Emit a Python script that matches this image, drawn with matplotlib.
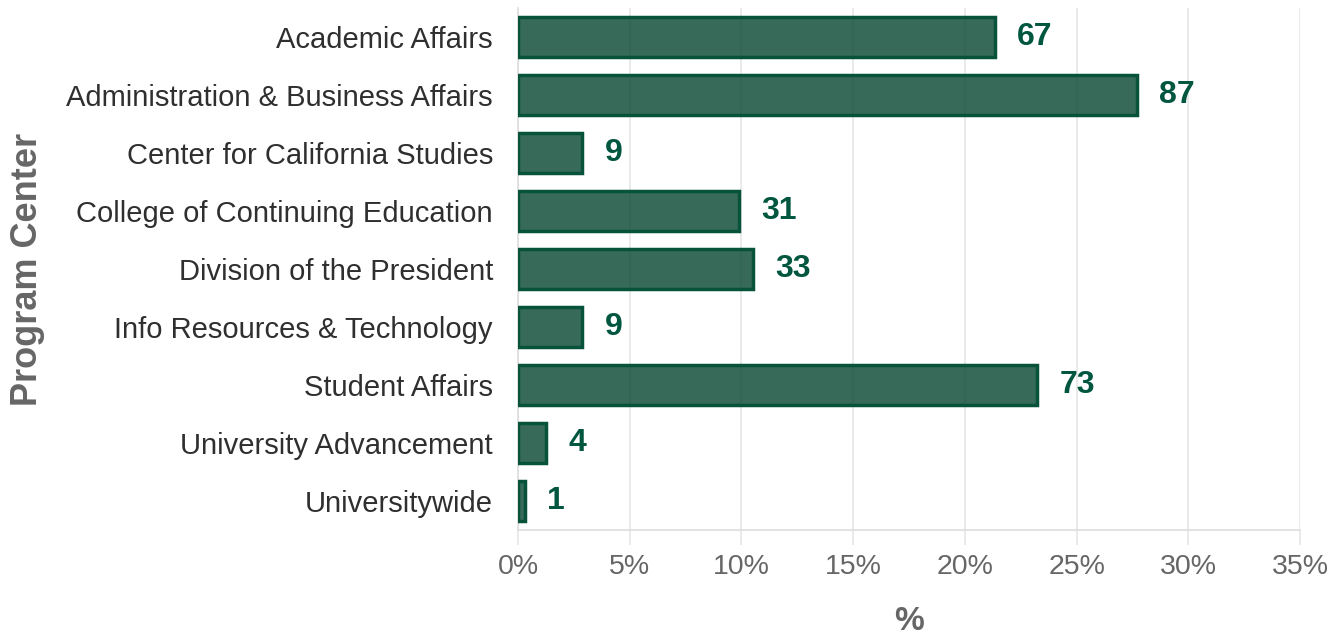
import matplotlib.pyplot as plt
from matplotlib.ticker import PercentFormatter

plt.rcParams['font.family'] = ['Liberation Sans', 'DejaVu Sans']

# Program centers and their counts
centers = [
    'Academic Affairs',
    'Administration & Business Affairs',
    'Center for California Studies',
    'College of Continuing Education',
    'Division of the President',
    'Info Resources & Technology',
    'Student Affairs',
    'University Advancement',
    'Universitywide',
]
counts = [67, 87, 9, 31, 33, 9, 73, 4, 1]
x_ticks = [0, 5, 10, 15, 20, 25, 30, 35]

total = sum(counts)
percents = [c / total * 100 for c in counts]

green = '#00563F'
bar_fill = (0.02, 0.27, 0.18, 0.8)

fig = plt.figure(figsize=(13.41, 6.37), dpi=100)
ax = fig.add_axes([518 / 1341, 1 - 530 / 637, 782 / 1341, 522 / 637])

ypos = list(range(len(centers)))
ax.barh(ypos, percents, height=0.7, facecolor=bar_fill,
        edgecolor='#07523b', linewidth=2.5, zorder=3)

for y, p, c in zip(ypos, percents, counts):
    ax.text(p + 1.0, y, str(c), va='center', ha='left', fontsize=23,
            fontweight='bold', color=green)

ax.set_ylim(len(centers) - 0.5, -0.5)
ax.set_xlim(0, 35)
ax.set_yticks(ypos)
ax.set_yticklabels(centers, fontsize=21, color='#2f2f2f')
ax.set_xticks(x_ticks)
ax.xaxis.set_major_formatter(PercentFormatter(decimals=0))
ax.tick_params(axis='x', labelsize=20.5, labelcolor='#666666', length=11,
               color='#e6e6e6', width=1.2, pad=6)
ax.tick_params(axis='y', length=0, pad=18)

ax.grid(axis='x', color='#e6e6e6', linewidth=1.2, zorder=0)
for side in ['top', 'right']:
    ax.spines[side].set_visible(False)
for side in ['left', 'bottom']:
    ax.spines[side].set_color('#dddddd')
    ax.spines[side].set_linewidth(1.2)

ax.set_xlabel('%', fontsize=24, fontweight='bold', color='#666666')
ax.xaxis.set_label_coords(0.5, -(622 - 530) / 522)
ax.xaxis.label.set_va('center')
ax.set_ylabel('Program Center', fontsize=26, fontweight='bold', color='#666666')
ax.yaxis.set_label_coords(-(518 - 28) / 782, 0.5)
ax.yaxis.label.set_va('center')

fig.savefig('out.png', dpi=100)
